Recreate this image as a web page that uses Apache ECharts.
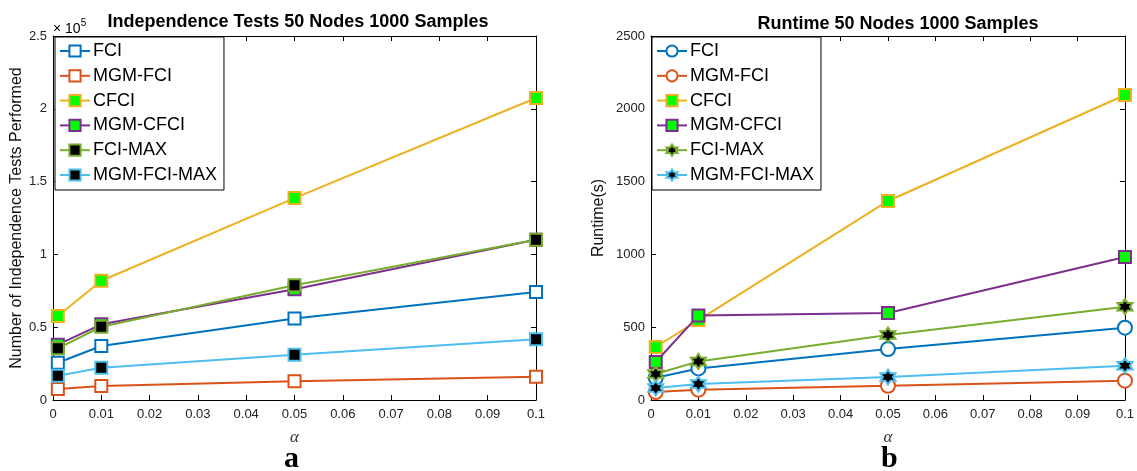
<!DOCTYPE html>
<html><head><meta charset="utf-8">
<script src="https://cdn.jsdelivr.net/npm/echarts@6/dist/echarts.min.js"></script>
<style>html,body{margin:0;padding:0;background:#fff}#c{width:1137px;height:471px}</style>
</head><body><div id="c"></div>
<script>
const alphas = [0.001, 0.01, 0.05, 0.1];
const seriesNames = ['FCI', 'MGM-FCI', 'CFCI', 'MGM-CFCI', 'FCI-MAX', 'MGM-FCI-MAX'];
// Panel a: independence tests performed
const fciTests = [25600, 37100, 55900, 74200];
const mgmFciTests = [7500, 9600, 12800, 16000];
const cfciTests = [57700, 81900, 138700, 207400];
const mgmCfciTests = [38000, 52000, 76000, 110000];
const fciMaxTests = [35500, 50300, 78800, 110000];
const mgmFciMaxTests = [16700, 22200, 31100, 41700];
// Panel b: runtime (s)
const fciTime = [153, 217, 350, 497];
const mgmFciTime = [55, 71, 98, 133];
const cfciTime = [364, 549, 1367, 2095];
const mgmCfciTime = [261, 581, 597, 982];
const fciMaxTime = [178, 265, 446, 641];
const mgmFciMaxTime = [82, 110, 158, 236];

const colors = ['#0072BD', '#D95319', '#EDB120', '#7E2F8E', '#77AC30', '#4DBEEE'];
const fills = ['#ffffff', '#ffffff', '#00ff00', '#00ff00', '#000000', '#000000'];

// hexagram marker shape
function hexagramPath() {
  const pts = [];
  for (let i = 0; i < 12; i++) {
    const r = i % 2 === 0 ? 1 : 0.5774;
    const a = -Math.PI / 2 + i * Math.PI / 6;
    pts.push((50 + 50 * r * Math.cos(a)).toFixed(2) + ' ' + (50 + 50 * r * Math.sin(a)).toFixed(2));
  }
  return 'path://M' + pts.join(' L') + ' Z';
}
const hex = hexagramPath();
const symA = ['rect', 'rect', 'rect', 'rect', 'rect', 'rect'];
const symB = ['circle', 'circle', 'rect', 'rect', hex, hex];
const sizeA = [12, 12, 12, 12, 12, 12];
const sizeB = [14, 14, 12, 12, 15, 15];

const dataA = [fciTests, mgmFciTests, cfciTests, mgmCfciTests, fciMaxTests, mgmFciMaxTests];
const dataB = [fciTime, mgmFciTime, cfciTime, mgmCfciTime, fciMaxTime, mgmFciMaxTime];
// panel b series carry a trailing space so each legend picks its own markers
const namesB = seriesNames.map(n => n + ' ');

const FONT = 'Liberation Sans, Arial, sans-serif';
const fmtX = v => String(parseFloat(v.toFixed(2)));

function xAxes(gi) {
  const base = {
    type: 'value', gridIndex: gi, min: 0, max: 0.1, interval: 0.01,
    axisLine: { show: true, onZero: false, lineStyle: { color: '#000', width: 1 } },
    axisTick: { show: true, inside: true, length: 5, lineStyle: { color: '#000' } },
    splitLine: { show: false }
  };
  return [
    Object.assign({}, base, {
      position: 'bottom',
      name: 'α', nameLocation: 'middle', nameGap: 29,
      nameTextStyle: { fontFamily: 'Liberation Serif, DejaVu Serif, serif', fontStyle: 'italic', fontSize: 17, color: '#333' },
      axisLabel: { show: true, color: '#222', fontFamily: FONT, fontSize: 13, margin: 8, formatter: fmtX }
    }),
    Object.assign({}, base, { position: 'top', axisLabel: { show: false } })
  ];
}
function yAxes(gi, max, interval, fmt, name, gap) {
  const base = {
    type: 'value', gridIndex: gi, min: 0, max: max, interval: interval,
    axisLine: { show: true, onZero: false, lineStyle: { color: '#000', width: 1 } },
    axisTick: { show: true, inside: true, length: 5, lineStyle: { color: '#000' } },
    splitLine: { show: false }
  };
  return [
    Object.assign({}, base, {
      position: 'left',
      name: name, nameLocation: 'middle', nameGap: gap, nameRotate: 90,
      nameTextStyle: { fontFamily: FONT, fontSize: 16, color: '#111' },
      axisLabel: { show: true, color: '#222', fontFamily: FONT, fontSize: 13, margin: 6, formatter: fmt }
    }),
    Object.assign({}, base, { position: 'right', axisLabel: { show: false } })
  ];
}

const series = [];
seriesNames.forEach((n, i) => {
  series.push({
    name: n, type: 'line', xAxisIndex: 0, yAxisIndex: 0,
    data: alphas.map((a, k) => [a, dataA[i][k]]),
    symbol: symA[i], symbolSize: sizeA[i], showAllSymbol: true,
    lineStyle: { color: colors[i], width: 2 },
    itemStyle: { color: fills[i], borderColor: colors[i], borderWidth: 2, opacity: 1 },
    emphasis: { disabled: true }, animation: false, z: 2 + i
  });
});
namesB.forEach((n, i) => {
  series.push({
    name: n, type: 'line', xAxisIndex: 2, yAxisIndex: 2,
    data: alphas.map((a, k) => [a, dataB[i][k]]),
    symbol: symB[i], symbolSize: sizeB[i], showAllSymbol: true,
    lineStyle: { color: colors[i], width: 2 },
    itemStyle: { color: fills[i], borderColor: colors[i], borderWidth: 2, opacity: 1 },
    emphasis: { disabled: true }, animation: false, z: 2 + i
  });
});

const legendBase = {
  orient: 'vertical', backgroundColor: '#fff', borderColor: '#000', borderWidth: 1,
  padding: [5, 7, 6, 4], itemGap: 6.8, itemWidth: 30, itemHeight: 14,
  formatter: n => n.trim(),
  textStyle: { fontFamily: FONT, fontSize: 18, color: '#000', lineHeight: 18, padding: [0, 0, 0, -2] },
  selectedMode: false, z: 20
};

const option = {
  animation: false,
  backgroundColor: '#fff',
  title: [
    { text: 'Independence Tests 50 Nodes 1000 Samples', left: 293, top: 8, textAlign: 'center',
      textStyle: { fontFamily: FONT, fontWeight: 'bold', fontSize: 18, color: '#000' } },
    { text: 'Runtime 50 Nodes 1000 Samples', left: 893, top: 10, textAlign: 'center',
      textStyle: { fontFamily: FONT, fontWeight: 'bold', fontSize: 18, color: '#000' } }
  ],
  grid: [
    { left: 53, right: 601, top: 36, bottom: 71 },
    { left: 651, right: 1, top: 36, bottom: 71 }
  ],
  xAxis: xAxes(0).concat(xAxes(1)),
  yAxis: yAxes(0, 250000, 50000, v => String(v / 100000), 'Number of Independence Tests Performed', 28)
    .concat(yAxes(1, 2500, 500, v => String(v), 'Runtime(s)', 44)),
  legend: [
    Object.assign({}, legendBase, { left: 55, top: 37, data: seriesNames }),
    Object.assign({}, legendBase, { left: 652, top: 37, data: namesB })
  ],
  series: series,
  graphic: [
    { type: 'text', left: 53, top: 18, style: {
      text: '{a|× 10}{b|5}', rich: {
        a: { fontFamily: FONT, fontSize: 14, color: '#222', verticalAlign: 'bottom' },
        b: { fontFamily: FONT, fontSize: 10, color: '#222', verticalAlign: 'top', padding: [0, 0, 8, 0] } } } },
    { type: 'text', left: 284, top: 444, style: { text: 'a', font: 'bold 30px Liberation Serif, DejaVu Serif, serif', fill: '#000' } },
    { type: 'text', left: 881, top: 444, style: { text: 'b', font: 'bold 30px Liberation Serif, DejaVu Serif, serif', fill: '#000' } }
  ]
};
const chart = echarts.init(document.getElementById('c'), null, { renderer: 'canvas' });
chart.setOption(option);
</script></body></html>
